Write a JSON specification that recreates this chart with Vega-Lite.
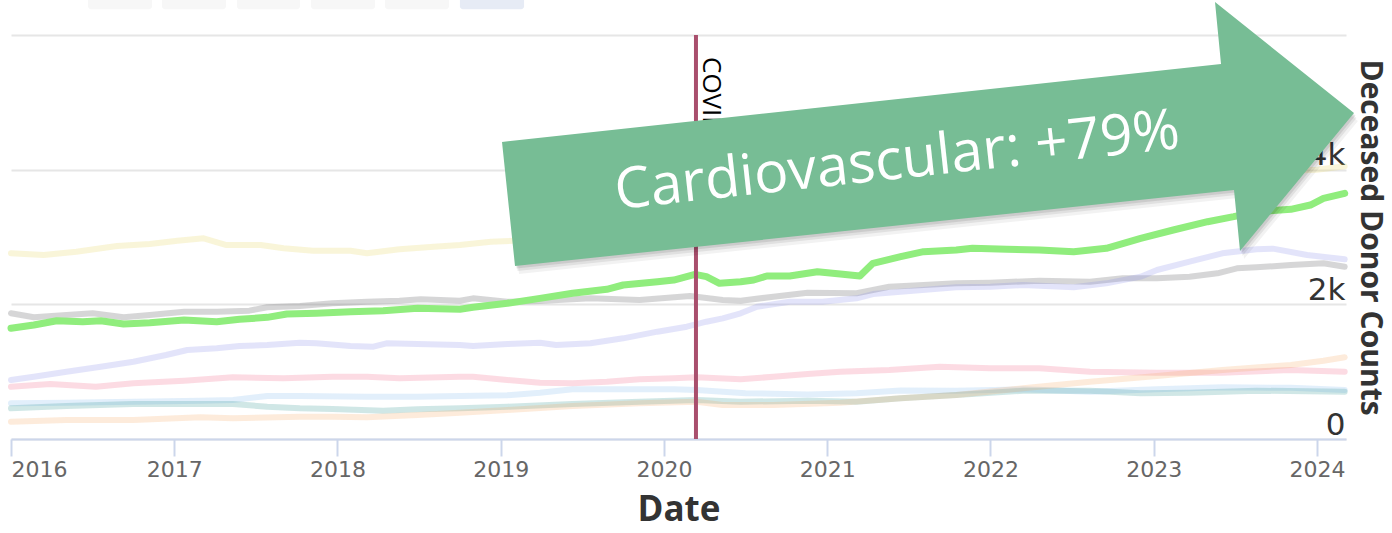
{
  "$schema": "https://vega.github.io/schema/vega-lite/v6.json",
  "width": 1335,
  "height": 404,
  "autosize": {"type": "none"},
  "padding": {"left": 11, "top": 35, "right": 46, "bottom": 94},
  "background": "white",
  "config": {"view": {"stroke": null}},
  "datasets": {
    "series": [
      {"s":"Anoxia","year":2016.00,"v":2758},{"s":"Anoxia","year":2016.20,"v":2733},{"s":"Anoxia","year":2016.40,"v":2782},{"s":"Anoxia","year":2016.65,"v":2866},{"s":"Anoxia","year":2016.85,"v":2896},{"s":"Anoxia","year":2017.02,"v":2945},{"s":"Anoxia","year":2017.18,"v":2980},{"s":"Anoxia","year":2017.32,"v":2881},{"s":"Anoxia","year":2017.53,"v":2881},{"s":"Anoxia","year":2017.67,"v":2832},{"s":"Anoxia","year":2017.85,"v":2797},{"s":"Anoxia","year":2018.08,"v":2797},{"s":"Anoxia","year":2018.18,"v":2758},{"s":"Anoxia","year":2018.38,"v":2817},{"s":"Anoxia","year":2018.59,"v":2856},{"s":"Anoxia","year":2018.75,"v":2881},{"s":"Anoxia","year":2018.94,"v":2930},{"s":"Anoxia","year":2019.25,"v":2960},{"s":"Anoxia","year":2019.60,"v":2990},{"s":"Anoxia","year":2020.00,"v":3020},{"s":"Anoxia","year":2020.50,"v":3080},{"s":"Anoxia","year":2021.00,"v":3250},{"s":"Anoxia","year":2021.50,"v":3380},{"s":"Anoxia","year":2022.00,"v":3500},{"s":"Anoxia","year":2022.50,"v":3640},{"s":"Anoxia","year":2023.00,"v":3800},{"s":"Anoxia","year":2023.50,"v":3950},{"s":"Anoxia","year":2024.00,"v":4000},{"s":"Anoxia","year":2024.17,"v":4050},

      {"s":"Head Trauma","year":2016.00,"v":1867},{"s":"Head Trauma","year":2016.14,"v":1807},{"s":"Head Trauma","year":2016.34,"v":1841},{"s":"Head Trauma","year":2016.50,"v":1867},{"s":"Head Trauma","year":2016.69,"v":1807},{"s":"Head Trauma","year":2016.85,"v":1841},{"s":"Head Trauma","year":2017.06,"v":1891},{"s":"Head Trauma","year":2017.26,"v":1891},{"s":"Head Trauma","year":2017.46,"v":1906},{"s":"Head Trauma","year":2017.57,"v":1956},{"s":"Head Trauma","year":2017.77,"v":1975},{"s":"Head Trauma","year":2017.97,"v":2015},{"s":"Head Trauma","year":2018.18,"v":2039},{"s":"Head Trauma","year":2018.38,"v":2054},{"s":"Head Trauma","year":2018.51,"v":2074},{"s":"Head Trauma","year":2018.75,"v":2054},{"s":"Head Trauma","year":2018.83,"v":2089},{"s":"Head Trauma","year":2019.04,"v":2039},{"s":"Head Trauma","year":2019.24,"v":2049},{"s":"Head Trauma","year":2019.55,"v":2089},{"s":"Head Trauma","year":2019.85,"v":2064},{"s":"Head Trauma","year":2020.16,"v":2124},{"s":"Head Trauma","year":2020.36,"v":2064},{"s":"Head Trauma","year":2020.47,"v":2054},{"s":"Head Trauma","year":2020.67,"v":2113},{"s":"Head Trauma","year":2020.88,"v":2173},{"s":"Head Trauma","year":2021.18,"v":2164},{"s":"Head Trauma","year":2021.38,"v":2262},{"s":"Head Trauma","year":2021.59,"v":2287},{"s":"Head Trauma","year":2021.79,"v":2312},{"s":"Head Trauma","year":2022.00,"v":2322},{"s":"Head Trauma","year":2022.30,"v":2351},{"s":"Head Trauma","year":2022.61,"v":2336},{"s":"Head Trauma","year":2022.81,"v":2386},{"s":"Head Trauma","year":2023.02,"v":2386},{"s":"Head Trauma","year":2023.22,"v":2411},{"s":"Head Trauma","year":2023.39,"v":2461},{"s":"Head Trauma","year":2023.51,"v":2535},{"s":"Head Trauma","year":2023.63,"v":2550},{"s":"Head Trauma","year":2023.84,"v":2584},{"s":"Head Trauma","year":2024.04,"v":2609},{"s":"Head Trauma","year":2024.17,"v":2559},

      {"s":"Drug Intoxication","year":2016.00,"v":876},{"s":"Drug Intoxication","year":2016.14,"v":925},{"s":"Drug Intoxication","year":2016.34,"v":1000},{"s":"Drug Intoxication","year":2016.55,"v":1074},{"s":"Drug Intoxication","year":2016.75,"v":1148},{"s":"Drug Intoxication","year":2016.95,"v":1247},{"s":"Drug Intoxication","year":2017.08,"v":1322},{"s":"Drug Intoxication","year":2017.26,"v":1347},{"s":"Drug Intoxication","year":2017.40,"v":1381},{"s":"Drug Intoxication","year":2017.57,"v":1396},{"s":"Drug Intoxication","year":2017.77,"v":1430},{"s":"Drug Intoxication","year":2017.87,"v":1421},{"s":"Drug Intoxication","year":2018.08,"v":1381},{"s":"Drug Intoxication","year":2018.22,"v":1371},{"s":"Drug Intoxication","year":2018.30,"v":1421},{"s":"Drug Intoxication","year":2018.49,"v":1411},{"s":"Drug Intoxication","year":2018.75,"v":1396},{"s":"Drug Intoxication","year":2018.83,"v":1381},{"s":"Drug Intoxication","year":2019.04,"v":1411},{"s":"Drug Intoxication","year":2019.24,"v":1430},{"s":"Drug Intoxication","year":2019.34,"v":1396},{"s":"Drug Intoxication","year":2019.55,"v":1421},{"s":"Drug Intoxication","year":2019.75,"v":1495},{"s":"Drug Intoxication","year":2019.96,"v":1594},{"s":"Drug Intoxication","year":2020.14,"v":1668},{"s":"Drug Intoxication","year":2020.26,"v":1742},{"s":"Drug Intoxication","year":2020.36,"v":1792},{"s":"Drug Intoxication","year":2020.47,"v":1867},{"s":"Drug Intoxication","year":2020.57,"v":1965},{"s":"Drug Intoxication","year":2020.77,"v":2039},{"s":"Drug Intoxication","year":2020.97,"v":2039},{"s":"Drug Intoxication","year":2021.18,"v":2089},{"s":"Drug Intoxication","year":2021.28,"v":2153},{"s":"Drug Intoxication","year":2021.45,"v":2188},{"s":"Drug Intoxication","year":2021.79,"v":2253},{"s":"Drug Intoxication","year":2022.00,"v":2262},{"s":"Drug Intoxication","year":2022.20,"v":2287},{"s":"Drug Intoxication","year":2022.51,"v":2253},{"s":"Drug Intoxication","year":2022.71,"v":2312},{"s":"Drug Intoxication","year":2022.92,"v":2411},{"s":"Drug Intoxication","year":2023.02,"v":2510},{"s":"Drug Intoxication","year":2023.22,"v":2633},{"s":"Drug Intoxication","year":2023.42,"v":2758},{"s":"Drug Intoxication","year":2023.63,"v":2817},{"s":"Drug Intoxication","year":2023.73,"v":2827},{"s":"Drug Intoxication","year":2023.94,"v":2733},{"s":"Drug Intoxication","year":2024.17,"v":2669},

      {"s":"Stroke","year":2016.00,"v":777},{"s":"Stroke","year":2016.24,"v":817},{"s":"Stroke","year":2016.52,"v":777},{"s":"Stroke","year":2016.75,"v":827},{"s":"Stroke","year":2017.06,"v":866},{"s":"Stroke","year":2017.36,"v":916},{"s":"Stroke","year":2017.67,"v":901},{"s":"Stroke","year":2017.97,"v":925},{"s":"Stroke","year":2018.18,"v":925},{"s":"Stroke","year":2018.38,"v":901},{"s":"Stroke","year":2018.75,"v":925},{"s":"Stroke","year":2018.83,"v":925},{"s":"Stroke","year":2019.04,"v":876},{"s":"Stroke","year":2019.24,"v":836},{"s":"Stroke","year":2019.44,"v":827},{"s":"Stroke","year":2019.65,"v":851},{"s":"Stroke","year":2019.85,"v":886},{"s":"Stroke","year":2020.06,"v":901},{"s":"Stroke","year":2020.20,"v":916},{"s":"Stroke","year":2020.47,"v":886},{"s":"Stroke","year":2020.67,"v":925},{"s":"Stroke","year":2020.88,"v":965},{"s":"Stroke","year":2021.08,"v":1000},{"s":"Stroke","year":2021.38,"v":1025},{"s":"Stroke","year":2021.69,"v":1074},{"s":"Stroke","year":2022.00,"v":1050},{"s":"Stroke","year":2022.30,"v":1050},{"s":"Stroke","year":2022.61,"v":1000},{"s":"Stroke","year":2023.02,"v":985},{"s":"Stroke","year":2023.42,"v":985},{"s":"Stroke","year":2023.84,"v":1025},{"s":"Stroke","year":2024.17,"v":1000},

      {"s":"Gunshot Wound","year":2016.00,"v":530},{"s":"Gunshot Wound","year":2016.34,"v":540},{"s":"Gunshot Wound","year":2016.75,"v":554},{"s":"Gunshot Wound","year":2017.16,"v":569},{"s":"Gunshot Wound","year":2017.36,"v":579},{"s":"Gunshot Wound","year":2017.57,"v":639},{"s":"Gunshot Wound","year":2017.77,"v":639},{"s":"Gunshot Wound","year":2018.18,"v":628},{"s":"Gunshot Wound","year":2018.49,"v":628},{"s":"Gunshot Wound","year":2018.75,"v":639},{"s":"Gunshot Wound","year":2019.04,"v":650},{"s":"Gunshot Wound","year":2019.24,"v":688},{"s":"Gunshot Wound","year":2019.44,"v":738},{"s":"Gunshot Wound","year":2019.85,"v":738},{"s":"Gunshot Wound","year":2020.06,"v":738},{"s":"Gunshot Wound","year":2020.20,"v":728},{"s":"Gunshot Wound","year":2020.50,"v":680},{"s":"Gunshot Wound","year":2020.88,"v":660},{"s":"Gunshot Wound","year":2021.18,"v":680},{"s":"Gunshot Wound","year":2021.45,"v":720},{"s":"Gunshot Wound","year":2021.79,"v":717},{"s":"Gunshot Wound","year":2022.20,"v":738},{"s":"Gunshot Wound","year":2022.61,"v":703},{"s":"Gunshot Wound","year":2023.02,"v":738},{"s":"Gunshot Wound","year":2023.42,"v":768},{"s":"Gunshot Wound","year":2023.84,"v":760},{"s":"Gunshot Wound","year":2024.17,"v":728},

      {"s":"Blunt Injury","year":2016.00,"v":456},{"s":"Blunt Injury","year":2016.34,"v":490},{"s":"Blunt Injury","year":2016.75,"v":520},{"s":"Blunt Injury","year":2017.16,"v":520},{"s":"Blunt Injury","year":2017.36,"v":520},{"s":"Blunt Injury","year":2017.57,"v":480},{"s":"Blunt Injury","year":2017.77,"v":456},{"s":"Blunt Injury","year":2017.97,"v":446},{"s":"Blunt Injury","year":2018.28,"v":421},{"s":"Blunt Injury","year":2018.49,"v":441},{"s":"Blunt Injury","year":2018.75,"v":456},{"s":"Blunt Injury","year":2019.04,"v":480},{"s":"Blunt Injury","year":2019.44,"v":520},{"s":"Blunt Injury","year":2019.85,"v":554},{"s":"Blunt Injury","year":2020.20,"v":579},{"s":"Blunt Injury","year":2020.47,"v":554},{"s":"Blunt Injury","year":2020.88,"v":569},{"s":"Blunt Injury","year":2021.18,"v":554},{"s":"Blunt Injury","year":2021.45,"v":604},{"s":"Blunt Injury","year":2021.79,"v":653},{"s":"Blunt Injury","year":2022.20,"v":717},{"s":"Blunt Injury","year":2022.61,"v":717},{"s":"Blunt Injury","year":2022.92,"v":678},{"s":"Blunt Injury","year":2023.22,"v":688},{"s":"Blunt Injury","year":2023.63,"v":717},{"s":"Blunt Injury","year":2024.17,"v":703},

      {"s":"Other","year":2016.00,"v":257},{"s":"Other","year":2016.34,"v":282},{"s":"Other","year":2016.75,"v":282},{"s":"Other","year":2017.16,"v":322},{"s":"Other","year":2017.36,"v":307},{"s":"Other","year":2017.77,"v":331},{"s":"Other","year":2017.97,"v":331},{"s":"Other","year":2018.18,"v":322},{"s":"Other","year":2018.49,"v":356},{"s":"Other","year":2018.75,"v":391},{"s":"Other","year":2019.04,"v":431},{"s":"Other","year":2019.44,"v":490},{"s":"Other","year":2019.85,"v":530},{"s":"Other","year":2020.20,"v":554},{"s":"Other","year":2020.36,"v":505},{"s":"Other","year":2020.67,"v":505},{"s":"Other","year":2021.08,"v":540},{"s":"Other","year":2021.45,"v":604},{"s":"Other","year":2021.79,"v":653},{"s":"Other","year":2022.20,"v":753},{"s":"Other","year":2022.61,"v":851},{"s":"Other","year":2023.02,"v":936},{"s":"Other","year":2023.42,"v":1025},{"s":"Other","year":2023.84,"v":1099},{"s":"Other","year":2024.04,"v":1163},{"s":"Other","year":2024.17,"v":1213},

      {"s":"Cardiovascular","year":2016.00,"v":1644},{"s":"Cardiovascular","year":2016.14,"v":1693},{"s":"Cardiovascular","year":2016.28,"v":1757},{"s":"Cardiovascular","year":2016.44,"v":1742},{"s":"Cardiovascular","year":2016.55,"v":1757},{"s":"Cardiovascular","year":2016.69,"v":1708},{"s":"Cardiovascular","year":2016.85,"v":1727},{"s":"Cardiovascular","year":2017.06,"v":1767},{"s":"Cardiovascular","year":2017.26,"v":1742},{"s":"Cardiovascular","year":2017.40,"v":1777},{"s":"Cardiovascular","year":2017.57,"v":1807},{"s":"Cardiovascular","year":2017.69,"v":1856},{"s":"Cardiovascular","year":2017.87,"v":1867},{"s":"Cardiovascular","year":2018.08,"v":1891},{"s":"Cardiovascular","year":2018.28,"v":1906},{"s":"Cardiovascular","year":2018.49,"v":1941},{"s":"Cardiovascular","year":2018.75,"v":1926},{"s":"Cardiovascular","year":2018.83,"v":1956},{"s":"Cardiovascular","year":2019.04,"v":2015},{"s":"Cardiovascular","year":2019.24,"v":2089},{"s":"Cardiovascular","year":2019.44,"v":2164},{"s":"Cardiovascular","year":2019.65,"v":2223},{"s":"Cardiovascular","year":2019.75,"v":2287},{"s":"Cardiovascular","year":2019.96,"v":2336},{"s":"Cardiovascular","year":2020.06,"v":2361},{"s":"Cardiovascular","year":2020.19,"v":2446},{"s":"Cardiovascular","year":2020.26,"v":2411},{"s":"Cardiovascular","year":2020.34,"v":2312},{"s":"Cardiovascular","year":2020.47,"v":2336},{"s":"Cardiovascular","year":2020.55,"v":2361},{"s":"Cardiovascular","year":2020.63,"v":2421},{"s":"Cardiovascular","year":2020.77,"v":2421},{"s":"Cardiovascular","year":2020.94,"v":2485},{"s":"Cardiovascular","year":2021.08,"v":2450},{"s":"Cardiovascular","year":2021.20,"v":2421},{"s":"Cardiovascular","year":2021.28,"v":2609},{"s":"Cardiovascular","year":2021.45,"v":2708},{"s":"Cardiovascular","year":2021.59,"v":2782},{"s":"Cardiovascular","year":2021.79,"v":2807},{"s":"Cardiovascular","year":2021.89,"v":2832},{"s":"Cardiovascular","year":2022.10,"v":2817},{"s":"Cardiovascular","year":2022.30,"v":2807},{"s":"Cardiovascular","year":2022.51,"v":2782},{"s":"Cardiovascular","year":2022.71,"v":2832},{"s":"Cardiovascular","year":2022.92,"v":2981},{"s":"Cardiovascular","year":2023.12,"v":3104},{"s":"Cardiovascular","year":2023.33,"v":3227},{"s":"Cardiovascular","year":2023.49,"v":3302},{"s":"Cardiovascular","year":2023.63,"v":3376},{"s":"Cardiovascular","year":2023.84,"v":3411},{"s":"Cardiovascular","year":2023.96,"v":3475},{"s":"Cardiovascular","year":2024.04,"v":3574},{"s":"Cardiovascular","year":2024.17,"v":3649}
    ],
    "arrow": [{"year": 2021.4, "v": 4300}],
    "buttons": [
      {"year": 2016.472, "year2": 2016.864, "v": 6382, "v2": 6900, "sel": "no"},
      {"year": 2016.925, "year2": 2017.317, "v": 6382, "v2": 6900, "sel": "no"},
      {"year": 2017.384, "year2": 2017.770, "v": 6382, "v2": 6900, "sel": "no"},
      {"year": 2017.838, "year2": 2018.230, "v": 6382, "v2": 6900, "sel": "no"},
      {"year": 2018.291, "year2": 2018.683, "v": 6382, "v2": 6900, "sel": "no"},
      {"year": 2018.750, "year2": 2019.143, "v": 6382, "v2": 6900, "sel": "yes"}
    ]
  },
  "encoding": {
    "x": {
      "field": "year", "type": "quantitative",
      "scale": {"domain": [2016, 2024.178], "nice": false, "zero": false},
      "axis": {
        "title": "Date", "values": [2016, 2017, 2018, 2019, 2020, 2021, 2022, 2023, 2024], "format": "d",
        "grid": false, "domainColor": "#ccd6eb", "domainWidth": 2, "tickColor": "#ccd6eb", "tickWidth": 2, "tickSize": 17,
        "labelFont": "DejaVu Sans", "labelFontSize": 22, "labelColor": "#666666", "labelPadding": 3, "labelFlush": true, "labelOverlap": false,
        "titleFont": "Open Sans", "titleFontSize": 35, "titleFontWeight": "bold", "titleColor": "#333333", "titlePadding": 12, "zindex": 0
      }
    },
    "y": {
      "field": "v", "type": "quantitative",
      "scale": {"domain": [0, 6000], "nice": false, "zero": true},
      "axis": {
        "orient": "right", "title": "Deceased Donor Counts", "values": [0, 2000, 4000, 6000],
        "labelExpr": "datum.value >= 6000 ? '' : datum.value == 0 ? '0' : (datum.value / 1000) + 'k'",
        "grid": true, "gridColor": "#e6e6e6", "gridWidth": 2, "domain": false, "ticks": false, "tickSize": 0,
        "labelAlign": "right", "labelBaseline": "alphabetic", "labelOffset": -5, "labelPadding": -1,
        "labelFont": "DejaVu Sans", "labelFontSize": 31, "labelColor": "#333333",
        "titleFont": "Open Sans", "titleFontSize": 30, "titleFontWeight": "bold", "titleColor": "#333333", "titlePadding": 8, "zindex": 0
      }
    }
  },
  "layer": [
    {
      "data": {"name": "series"},
      "transform": [{"filter": "datum.s !== 'Cardiovascular'"}],
      "mark": {"type": "line", "strokeWidth": 6, "opacity": 0.22, "strokeCap": "round", "strokeJoin": "round"},
      "encoding": {
        "color": {
          "field": "s", "type": "nominal", "legend": null,
          "scale": {
            "domain": ["Gunshot Wound", "Head Trauma", "Other", "Drug Intoxication", "Stroke", "Anoxia", "Blunt Injury"],
            "range": ["#7cb5ec", "#434348", "#f7a35c", "#8085e9", "#f15c80", "#e4d354", "#2b908f"]
          }
        }
      }
    },
    {
      "data": {"name": "series"},
      "transform": [{"filter": "datum.s === 'Cardiovascular'"}],
      "mark": {"type": "line", "strokeWidth": 7, "color": "#90ed7d", "strokeCap": "round", "strokeJoin": "round"},
      "encoding": {}
    },
    {
      "data": {"values": [{"year": 2020.196, "v": 0, "v2": 6000}]},
      "mark": {"type": "rule", "color": "#a94f6d", "strokeWidth": 4},
      "encoding": {"y2": {"field": "v2"}}
    },
    {
      "data": {"values": [{"year": 2020.196, "v": 6000, "label": "COVID-19"}]},
      "mark": {"type": "text", "angle": 90, "align": "left", "baseline": "alphabetic", "dx": 22, "dy": -7, "fontSize": 26, "font": "Open Sans", "color": "#000000"},
      "encoding": {"text": {"field": "label"}}
    },
    {
      "data": {"name": "buttons"},
      "mark": {"type": "rect", "cornerRadius": 3},
      "encoding": {
        "x2": {"field": "year2"}, "y2": {"field": "v2"},
        "fill": {"field": "sel", "type": "nominal", "legend": null, "scale": {"domain": ["no", "yes"], "range": ["#f7f7f7", "#e6ebf5"]}}
      }
    },
    {
      "data": {"name": "arrow"},
      "mark": {"type": "point", "shape": "M-390.5,-7.5L328.5,-85.5L322.5,-147.5L461.5,-36.5L347.5,101.5L341.5,40.5L-377.5,116.5Z", "size": 4, "filled": true, "color": "#000000", "opacity": 0.05, "xOffset": 4, "yOffset": 8},
      "encoding": {}
    },
    {
      "data": {"name": "arrow"},
      "mark": {"type": "point", "shape": "M-390.5,-7.5L328.5,-85.5L322.5,-147.5L461.5,-36.5L347.5,101.5L341.5,40.5L-377.5,116.5Z", "size": 4, "filled": true, "color": "#000000", "opacity": 0.07, "xOffset": 2.5, "yOffset": 5},
      "encoding": {}
    },
    {
      "data": {"name": "arrow"},
      "mark": {"type": "point", "shape": "M-390.5,-7.5L328.5,-85.5L322.5,-147.5L461.5,-36.5L347.5,101.5L341.5,40.5L-377.5,116.5Z", "size": 4, "filled": true, "color": "#000000", "opacity": 0.09, "xOffset": 1.5, "yOffset": 2.5},
      "encoding": {}
    },
    {
      "data": {"name": "arrow"},
      "mark": {"type": "point", "shape": "M-390.5,-7.5L328.5,-85.5L322.5,-147.5L461.5,-36.5L347.5,101.5L341.5,40.5L-377.5,116.5Z", "size": 4, "filled": true, "color": "#77bd95", "opacity": 1, "strokeWidth": 0},
      "encoding": {}
    },
    {
      "data": {"values": [{"year": 2021.44, "v": 3869, "label": "Cardiovascular: +79%"}]},
      "mark": {"type": "text", "angle": -6.2, "align": "center", "baseline": "alphabetic", "fontSize": 57, "font": "Open Sans", "color": "#ffffff"},
      "encoding": {"text": {"field": "label"}}
    }
  ]
}
